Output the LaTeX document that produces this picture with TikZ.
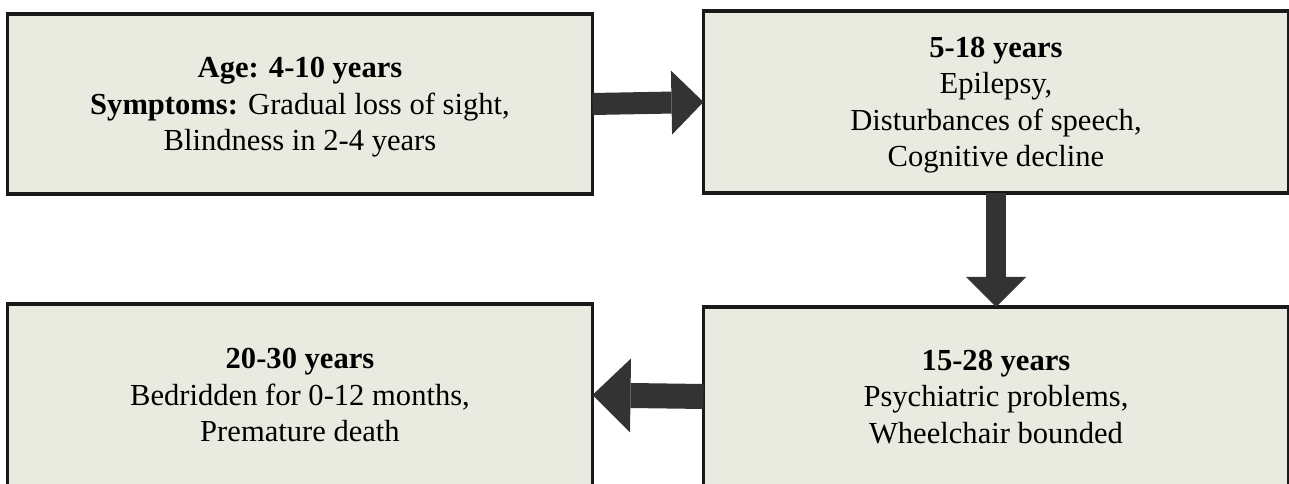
\documentclass[tikz,border=0pt]{standalone}
\usepackage{fontspec}
\setmainfont{Liberation Serif}
\usetikzlibrary{%
  arrows.meta,%
  positioning,% wg. " of "
  calc%
}
\definecolor{boxfill}{HTML}{EAEBE0}
\definecolor{arrowgray}{HTML}{333333}
\tikzset{
  stage/.style={draw=black!90, line width=1.8pt, fill=boxfill, rectangle, align=center,
    minimum width=11.7cm, minimum height=3.6cm, inner sep=0pt, outer sep=0pt,
    text depth=0pt, font=\fontsize{17.4}{20.8}\selectfont},
  fatarrow/.style={draw=arrowgray, line width=0.44cm,
    -{Triangle[length=0.64cm, width=1.28cm, line width=0pt]}}
}

\begin{document}
\begin{tikzpicture}
\useasboundingbox (0,0) rectangle (25.78,9.68);

%Stage boxes
\node[stage] (age) at (6.00,7.60) {\textbf{Age: 4-10 years}\\\textbf{Symptoms:} Gradual loss of sight,\\Blindness in 2-4 years};
\node[stage, minimum height=3.64cm] (epil) at (19.92,7.64) {\textbf{5-18 years}\\Epilepsy,\\Disturbances of speech,\\Cognitive decline};
\node[stage, minimum height=3.58cm, below=2.28cm of epil] (psych) {\textbf{15-28 years}\\Psychiatric problems,\\Wheelchair bounded};
\node[stage, minimum height=3.64cm, left=2.22cm of psych.north west, anchor=north east, yshift=0.06cm] (bedr) {\textbf{20-30 years}\\Bedridden for 0-12 months,\\Premature death};

% Thick arrows between the stages
\draw[fatarrow] (age.east) -- (epil.west);
\draw[fatarrow, line width=0.40cm, -{Triangle[length=0.60cm, width=1.20cm, line width=0pt]}] (epil.south) -- (psych.north);
\draw[fatarrow, line width=0.50cm, -{Triangle[length=0.76cm, width=1.48cm, line width=0pt]}] (psych.west) -- (bedr.east);
\end{tikzpicture}
\end{document}
